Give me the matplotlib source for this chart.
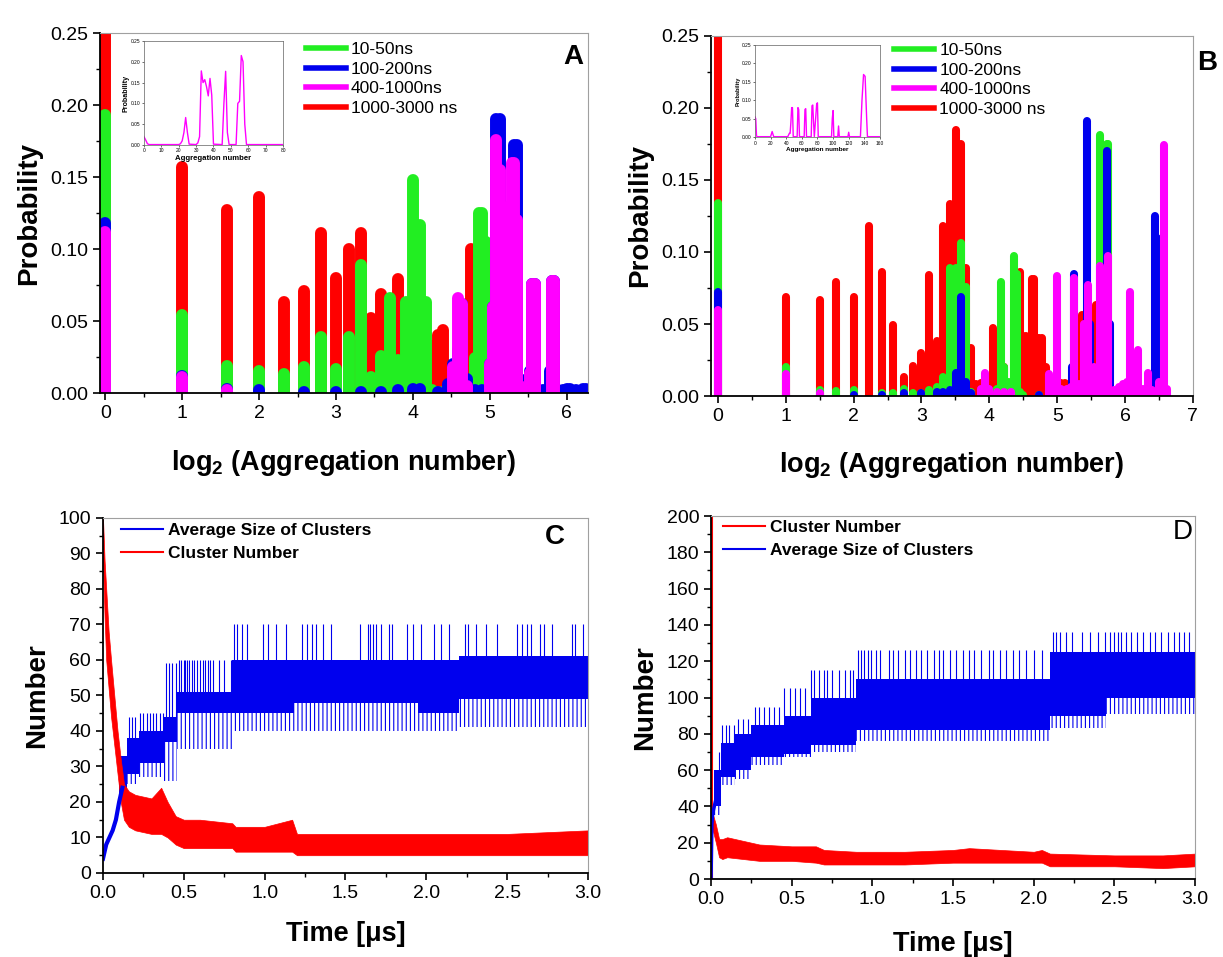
import numpy as np
import matplotlib
matplotlib.use("Agg")
import matplotlib.pyplot as plt
from matplotlib.lines import Line2D
from matplotlib.ticker import MultipleLocator, FormatStrFormatter

plt.rcParams['font.family'] = ['Liberation Sans', 'DejaVu Sans']
plt.rcParams['mathtext.fontset'] = 'custom'
plt.rcParams['mathtext.rm'] = 'Liberation Sans'
plt.rcParams['mathtext.bf'] = 'Liberation Sans:bold'
plt.rcParams['hatch.color'] = '#0000ee'
plt.rcParams['hatch.linewidth'] = 0.8

GREEN = '#22ee22'
BLUE = '#0000ee'
MAGENTA = '#ff00ff'
RED = '#ff0000'

# ---------------- panel A: aggregation number distributions ----------------
agg_a_red = list(range(1, 29))
prob_a_red = [0.30, 0.157, 0.127, 0.136, 0.063, 0.071, 0.111, 0.080, 0.100, 0.111,
              0.052, 0.069, 0.055, 0.079, 0.045, 0.020, 0.015, 0.010, 0.033, 0.040,
              0.044, 0.010, 0.006, 0.005, 0.004, 0.004, 0.100, 0.020]
agg_a_green = list(range(1, 34))
prob_a_green = [0.193, 0.054, 0.019, 0.015, 0.013, 0.018, 0.039, 0.017, 0.039, 0.089,
                0.011, 0.026, 0.066, 0.023, 0.063, 0.148, 0.117, 0.063, 0.002, 0.001,
                0.001, 0.001, 0.001, 0.001, 0.001, 0.002, 0.005, 0.024, 0.125, 0.125,
                0.105, 0.020, 0.004]
agg_a_blue = [1, 2, 3, 4, 6, 8, 10, 12, 14, 16, 17, 20, 22, 23, 24, 25, 26, 28, 30, 32,
              33, 34, 35, 36, 37, 38, 39, 40, 41, 42, 45, 46, 47, 48, 49, 52, 55, 56, 57, 58,
              62, 64, 66, 70, 74, 76]
prob_a_blue = [0.118, 0.012, 0.003, 0.002, 0.001, 0.001, 0.001, 0.001, 0.002, 0.003,
               0.003, 0.001, 0.006, 0.020, 0.030, 0.062, 0.010, 0.002, 0.002, 0.020,
               0.060, 0.190, 0.190, 0.120, 0.115, 0.115, 0.115, 0.172, 0.172, 0.010,
               0.003, 0.015, 0.076, 0.076, 0.003, 0.002, 0.015, 0.078, 0.078, 0.003,
               0.002, 0.003, 0.003, 0.002, 0.003, 0.003]
agg_a_mag = [1, 2, 3, 23, 24, 25, 26, 32, 33, 34, 35, 36, 37, 38, 39, 40, 41, 42, 46, 47,
             48, 56, 57]
prob_a_mag = [0.112, 0.011, 0.002, 0.018, 0.066, 0.062, 0.005, 0.020, 0.060, 0.176,
              0.155, 0.115, 0.115, 0.130, 0.160, 0.160, 0.120, 0.005, 0.014, 0.076,
              0.076, 0.078, 0.078]

# inset A
ins_a_n = [0, 1, 2, 3, 20, 21, 22, 23, 24, 25, 26, 30, 31, 32, 33, 34, 35, 36, 37, 38,
           39, 40, 45, 46, 47, 48, 49, 53, 54, 55, 56, 57, 58, 59, 80]
ins_a_p = [0.02, 0.012, 0.003, 0.001, 0.001, 0.003, 0.01, 0.03, 0.066, 0.03,
           0.002, 0.001, 0.005, 0.02, 0.178, 0.15, 0.157, 0.14, 0.118, 0.16,
           0.12, 0.002, 0.001, 0.1, 0.177, 0.03, 0.001, 0.001, 0.1, 0.105,
           0.215, 0.2, 0.05, 0.001, 0.001]

# ---------------- panel B (aggregation counted in inset units, /1.5) ----------------
agg_b_red = [1.5, 3, 4.24, 5, 6, 7, 8, 9, 10, 11, 12, 13, 14, 15, 16, 17, 18, 19, 20, 21,
             22, 23, 24, 25, 26, 27, 28, 29, 30, 31, 32, 33, 34, 35, 36, 37, 38, 39, 40, 41,
             42, 43, 44, 46, 48, 50, 52, 54, 56, 62, 66, 71]
prob_b_red = [0.30, 0.069, 0.067, 0.079, 0.069, 0.118, 0.086, 0.049, 0.0135, 0.021,
              0.030, 0.084, 0.038, 0.118, 0.133, 0.185, 0.175, 0.089, 0.033, 0.008,
              0.009, 0.004, 0.003, 0.047, 0.012, 0.008, 0.020, 0.006, 0.004, 0.005,
              0.008, 0.086, 0.042, 0.042, 0.030, 0.081, 0.081, 0.040, 0.040, 0.040,
              0.020, 0.020, 0.012, 0.004, 0.009, 0.009, 0.009, 0.004, 0.003, 0.056,
              0.004, 0.063]
agg_b_green = [1.5, 3, 4.24, 5, 6, 8, 9, 10, 11, 12, 13, 14, 15, 16, 17, 18, 19, 20, 22, 24,
               26, 27, 28, 29, 30, 31, 32, 33, 34, 40, 50, 60, 74, 80, 81]
prob_b_green = [0.134, 0.020, 0.004, 0.0035, 0.004, 0.002, 0.002, 0.005, 0.002, 0.002,
                0.004, 0.006, 0.013, 0.089, 0.089, 0.106, 0.076, 0.003, 0.001, 0.002,
                0.005, 0.079, 0.020, 0.010, 0.010, 0.097, 0.085, 0.003, 0.001, 0.001,
                0.001, 0.002, 0.181, 0.175, 0.175]
agg_b_blue = [1.5, 3, 4.24, 6, 8, 10, 12, 14, 15, 16, 17, 18, 19, 20, 24, 30, 40, 50, 56, 57,
              60, 64, 65, 67, 72, 78, 80, 82, 90, 100, 120, 128, 131, 133]
prob_b_blue = [0.072, 0.002, 0.001, 0.001, 0.001, 0.002, 0.002, 0.003, 0.003, 0.004,
               0.016, 0.069, 0.010, 0.002, 0.001, 0.001, 0.001, 0.002, 0.020, 0.085,
               0.005, 0.010, 0.191, 0.050, 0.010, 0.050, 0.170, 0.050, 0.002, 0.002,
               0.002, 0.010, 0.125, 0.110]
agg_b_mag = [1.5, 3, 4.24, 22, 23, 24, 26, 28, 30, 44, 46, 48, 50, 53, 55, 57, 60, 63, 66, 70,
             74, 78, 81, 86, 90, 94, 98, 101, 105, 110, 115, 121, 126, 136, 143, 148]
prob_b_mag = [0.060, 0.0156, 0.002, 0.005, 0.016, 0.005, 0.003, 0.003, 0.003, 0.015,
              0.010, 0.083, 0.005, 0.005, 0.006, 0.082, 0.008, 0.050, 0.077, 0.020,
              0.090, 0.040, 0.097, 0.004, 0.006, 0.008, 0.010, 0.072, 0.010, 0.032,
              0.005, 0.016, 0.004, 0.010, 0.174, 0.005]

# inset B
ins_b_n = [0, 1, 2, 3, 20, 22, 24, 42, 44, 45, 46, 47, 48, 49, 54, 55, 56, 57, 63, 64,
           65, 66, 72, 73, 74, 75, 76, 78, 79, 80, 81, 98, 99, 100, 101, 106, 107, 108, 119, 120,
           121, 135, 137, 139, 141, 143, 144, 160]
ins_b_p = [0.055, 0.05, 0.003, 0.001, 0.001, 0.015, 0.001, 0.001, 0.01, 0.01,
           0.04, 0.08, 0.08, 0.001, 0.001, 0.08, 0.075, 0.001, 0.001, 0.075,
           0.077, 0.001, 0.001, 0.085, 0.087, 0.04, 0.001, 0.06, 0.09, 0.093,
           0.001, 0.001, 0.05, 0.072, 0.001, 0.001, 0.03, 0.001, 0.001, 0.013,
           0.001, 0.001, 0.1, 0.17, 0.165, 0.05, 0.001, 0.001]

# ---------------- panel C: time series envelopes ----------------
c_blue_rise_t = [0.0, 0.01, 0.02, 0.04, 0.06, 0.08, 0.10, 0.12]
c_blue_rise_v = [4, 6, 8, 10, 12, 15, 20, 24]
c_seg_t0 = [0.10, 0.15, 0.22, 0.38, 0.46, 0.80, 1.18, 1.95, 2.20]
c_seg_t1 = [0.15, 0.22, 0.38, 0.46, 0.80, 1.18, 1.95, 2.20, 3.00]
c_core_lo = [22, 28, 31, 37, 45, 45, 48, 45, 49]
c_core_hi = [33, 38, 40, 44, 51, 60, 60, 60, 61]
c_tail_lo = [19, 25, 27, 26, 35, 40, 40, 40, 41]
c_spike_hi = [35, 44, 45, 59, 60, 70, 70, 70, 70]
c_spike_t = [0.16, 0.18, 0.20, 0.23, 0.25, 0.27, 0.29, 0.31, 0.33, 0.35, 0.37,
             0.39, 0.41, 0.43, 0.45, 0.47, 0.48, 0.50, 0.51, 0.52, 0.53, 0.55, 0.56,
             0.58, 0.60, 0.62, 0.63, 0.65, 0.66, 0.68, 0.72, 0.75, 0.79,
             0.81, 0.83, 0.86, 0.89, 0.99, 1.02, 1.07, 1.13, 1.23, 1.26, 1.29, 1.32,
             1.36, 1.41, 1.59, 1.64, 1.65, 1.67, 1.69, 1.72, 1.77, 1.79, 1.88, 1.92,
             1.97, 2.05, 2.09, 2.14, 2.24, 2.26, 2.31, 2.37, 2.44, 2.56, 2.59, 2.62,
             2.65, 2.70, 2.73, 2.78, 2.90, 2.92, 2.97]
c_red_t = [0.0, 0.01, 0.02, 0.035, 0.05, 0.07, 0.09, 0.11, 0.13, 0.16, 0.2, 0.3, 0.36,
           0.4, 0.45, 0.5, 0.6, 0.8, 0.82, 1.0, 1.17, 1.2, 1.5, 2.0, 2.5, 3.0]
c_red_lo = [88, 72, 60, 52, 44, 36, 28, 20, 15, 13, 12, 11, 11, 10, 8, 7, 7, 7, 6, 6,
            6, 5, 5, 5, 5, 5]
c_red_hi = [100, 88, 80, 68, 60, 50, 40, 32, 25, 23, 22, 21, 24, 20, 16, 15, 15, 14, 13, 13,
            15, 11, 11, 11, 11, 12]

# ---------------- panel D ----------------
d_blue_rise_t = [0.0, 0.005, 0.01, 0.02, 0.04]
d_blue_rise_v = [0, 30, 36, 40, 48]
d_seg_t0 = [0.02, 0.06, 0.15, 0.25, 0.45, 0.62, 0.90, 2.10, 2.45]
d_seg_t1 = [0.06, 0.15, 0.25, 0.45, 0.62, 0.90, 2.10, 2.45, 3.00]
d_core_lo = [40, 56, 60, 67, 69, 74, 82, 90, 100]
d_core_hi = [60, 75, 80, 85, 90, 100, 110, 125, 125]
d_tail_lo = [35, 52, 55, 63, 67, 70, 76, 83, 91]
d_spike_hi = [70, 85, 88, 95, 105, 115, 126, 136, 136]
d_spike_t = [0.05, 0.07, 0.09, 0.11, 0.14, 0.17, 0.20, 0.23, 0.27, 0.30, 0.33, 0.36,
             0.39, 0.42, 0.45, 0.49, 0.52, 0.55, 0.58, 0.62, 0.64, 0.67, 0.70, 0.72,
             0.75, 0.79, 0.83, 0.86, 0.88, 0.91, 0.93, 0.95, 0.97, 0.99, 1.02, 1.05,
             1.10, 1.13, 1.16, 1.20, 1.23, 1.27, 1.30, 1.34, 1.38, 1.41, 1.44, 1.48,
             1.52, 1.56, 1.60, 1.63, 1.67, 1.72, 1.75, 1.79, 1.83, 1.87, 1.91, 1.95,
             2.00, 2.05, 2.12, 2.14, 2.16, 2.20, 2.24, 2.30, 2.35, 2.40, 2.44, 2.47,
             2.50, 2.52, 2.54, 2.57, 2.60, 2.64, 2.68, 2.72, 2.75, 2.79, 2.83, 2.87,
             2.90, 2.93, 2.96]
d_red_t = [0.0, 0.01, 0.03, 0.05, 0.07, 0.1, 0.2, 0.3, 0.5, 0.65, 0.7, 0.9, 1.2, 1.5,
           1.6, 2.0, 2.05, 2.1, 2.5, 2.8, 3.0]
d_red_lo = [30, 27, 20, 12, 11, 12, 11, 10, 10, 9, 8, 8, 8, 9, 9, 9, 9, 7, 7, 6, 7]
d_red_hi = [40, 36, 30, 22, 22, 23, 21, 19, 18, 18, 16, 15, 15, 16, 17, 15, 16, 14, 13, 13, 14]
d_red_start = 200


def style_axes(ax):
    for s in ['top', 'right']:
        ax.spines[s].set_color('#a0a0a0')
        ax.spines[s].set_linewidth(0.8)
    for s in ['left', 'bottom']:
        ax.spines[s].set_linewidth(1.3)
    ax.tick_params(which='both', direction='out', top=False, right=False, labelsize=14)
    ax.tick_params(which='major', length=5, width=1.2)
    ax.tick_params(which='minor', length=3, width=1.0)


def draw_bars(ax, agg, prob, color, lw, scale=1.0):
    x = np.log2(np.array(agg, dtype=float) / scale)
    ax.vlines(x, 0, prob, colors=color, linewidth=lw, capstyle='round')


def draw_inset(rect, n, p, xmax, xstep, fs):
    ax = fig.add_axes(rect)
    ax.plot(n, p, color=MAGENTA, lw=1.0)
    ax.set_xlim(0, xmax)
    ax.set_ylim(0, 0.25)
    ax.set_xticks(np.arange(0, xmax + 1, xstep))
    ax.set_yticks([0, 0.05, 0.10, 0.15, 0.20, 0.25])
    ax.yaxis.set_major_formatter(FormatStrFormatter('%.2f'))
    ax.tick_params(labelsize=3.5, length=1.5, width=0.4, pad=1)
    for s in ax.spines.values():
        s.set_linewidth(0.5)
        s.set_color('#606060')
    ax.set_xlabel('Aggregation number', fontsize=fs, fontweight='bold', labelpad=1)
    ax.set_ylabel('Probability', fontsize=fs - 0.5, fontweight='bold', labelpad=1)


def draw_blue_series(ax, t0, t1, clo, chi, tlo, shi, st):
    for a, b, lo, hi, tl in zip(t0, t1, clo, chi, tlo):
        ax.fill_between([a, b], tl, lo, facecolor='none', edgecolor=BLUE,
                        hatch='||||', linewidth=0)
        ax.fill_between([a, b], lo, hi, color=BLUE, linewidth=0)
    idx = np.searchsorted(t0, st, side='right') - 1
    ax.vlines(st, np.array(chi)[idx], np.array(shi)[idx], colors=BLUE, linewidth=0.8)


fig = plt.figure(figsize=(12.23, 9.57), dpi=100)

# ---- A ----
axA = fig.add_axes([0.0818, 0.5893, 0.399, 0.3762])
for agg, prob, col in [(agg_a_red, prob_a_red, RED), (agg_a_green, prob_a_green, GREEN),
                       (agg_a_blue, prob_a_blue, BLUE), (agg_a_mag, prob_a_mag, MAGENTA)]:
    draw_bars(axA, agg, prob, col, 8.6)
axA.set_xlim(-0.07, 6.28)
axA.set_ylim(0, 0.25)
axA.xaxis.set_major_locator(MultipleLocator(1))
axA.xaxis.set_minor_locator(MultipleLocator(0.5))
axA.yaxis.set_major_locator(MultipleLocator(0.05))
axA.yaxis.set_minor_locator(MultipleLocator(0.025))
axA.yaxis.set_major_formatter(FormatStrFormatter('%.2f'))
style_axes(axA)
axA.set_ylabel('Probability', fontsize=20, fontweight='bold', labelpad=6)
axA.set_xlabel(r'log$_\mathbf{2}$ (Aggregation number)', fontsize=19.5,
               fontweight='bold', labelpad=19)
axA.text(0.969, 0.933, 'A', transform=axA.transAxes, fontsize=20, fontweight='bold',
         ha='center', va='center')

labels_ab = ['10-50ns', '100-200ns', '400-1000ns', '1000-3000 ns']
handles_ab = [Line2D([], [], color=c, lw=4) for c in [GREEN, BLUE, MAGENTA, RED]]
axA.legend(handles_ab, labels_ab, loc='upper left', bbox_to_anchor=(0.422, 0.975),
           frameon=False, fontsize=12.5, handlelength=2.3, handletextpad=0.3,
           labelspacing=0.25, borderaxespad=0, borderpad=0)

draw_inset([0.1177, 0.8485, 0.1137, 0.1087], ins_a_n, ins_a_p, 80, 10, 5.6)

# ---- B ----
axB = fig.add_axes([0.5814, 0.5862, 0.394, 0.3762])
for agg, prob, col in [(agg_b_red, prob_b_red, RED), (agg_b_green, prob_b_green, GREEN),
                       (agg_b_blue, prob_b_blue, BLUE), (agg_b_mag, prob_b_mag, MAGENTA)]:
    draw_bars(axB, agg, prob, col, 5.8, scale=1.5)
axB.set_xlim(-0.1, 7)
axB.set_ylim(0, 0.25)
axB.xaxis.set_major_locator(MultipleLocator(1))
axB.xaxis.set_minor_locator(MultipleLocator(0.5))
axB.yaxis.set_major_locator(MultipleLocator(0.05))
axB.yaxis.set_minor_locator(MultipleLocator(0.025))
axB.yaxis.set_major_formatter(FormatStrFormatter('%.2f'))
style_axes(axB)
axB.set_ylabel('Probability', fontsize=20, fontweight='bold', labelpad=6)
axB.set_xlabel(r'log$_\mathbf{2}$ (Aggregation number)', fontsize=19.5,
               fontweight='bold', labelpad=18)
axB.text(1.029, 0.925, 'B', transform=axB.transAxes, fontsize=20, fontweight='bold',
         ha='center', va='center')
axB.legend(handles_ab, labels_ab, loc='upper left', bbox_to_anchor=(0.38, 0.98),
           frameon=False, fontsize=12.5, handlelength=2.3, handletextpad=0.3,
           labelspacing=0.25, borderaxespad=0, borderpad=0)

draw_inset([0.6173, 0.8568, 0.1022, 0.0961], ins_b_n, ins_b_p, 160, 20, 4.6)

# ---- C ----
axC = fig.add_axes([0.0842, 0.0878, 0.3966, 0.371])
axC.plot(c_blue_rise_t, c_blue_rise_v, color=BLUE, lw=3)
draw_blue_series(axC, c_seg_t0, c_seg_t1, c_core_lo, c_core_hi, c_tail_lo,
                 c_spike_hi, c_spike_t)
axC.fill_between(c_red_t, c_red_lo, c_red_hi, color=RED, linewidth=0.5)
axC.set_xlim(0, 3)
axC.set_ylim(0, 100)
axC.xaxis.set_major_locator(MultipleLocator(0.5))
axC.xaxis.set_minor_locator(MultipleLocator(0.25))
axC.xaxis.set_major_formatter(FormatStrFormatter('%.1f'))
axC.yaxis.set_major_locator(MultipleLocator(10))
axC.yaxis.set_minor_locator(MultipleLocator(5))
style_axes(axC)
axC.set_ylabel('Number', fontsize=20, fontweight='bold', labelpad=6)
axC.set_xlabel('Time [\u03bcs]', fontsize=19.5, fontweight='bold', labelpad=14)
axC.text(0.932, 0.946, 'C', transform=axC.transAxes, fontsize=20, fontweight='bold',
         ha='center', va='center')
axC.legend([Line2D([], [], color=BLUE, lw=1.5), Line2D([], [], color=RED, lw=1.5)],
           ['Average Size of Clusters', 'Cluster Number'], loc='upper left',
           bbox_to_anchor=(0.037, 0.985), frameon=False, prop={'size': 12.5, 'weight': 'bold'},
           handlelength=2.4, handletextpad=0.3, labelspacing=0.45, borderaxespad=0,
           borderpad=0)

# ---- D ----
axD = fig.add_axes([0.5814, 0.0815, 0.3958, 0.3793])
axD.vlines(0.004, 0, d_red_start, colors=RED, linewidth=1.5)
axD.fill_between(d_red_t, d_red_lo, d_red_hi, color=RED, linewidth=0.5)
axD.plot(d_blue_rise_t, d_blue_rise_v, color=BLUE, lw=2.5)
draw_blue_series(axD, d_seg_t0, d_seg_t1, d_core_lo, d_core_hi, d_tail_lo,
                 d_spike_hi, d_spike_t)
axD.set_xlim(0, 3)
axD.set_ylim(0, 200)
axD.xaxis.set_major_locator(MultipleLocator(0.5))
axD.xaxis.set_minor_locator(MultipleLocator(0.25))
axD.xaxis.set_major_formatter(FormatStrFormatter('%.1f'))
axD.yaxis.set_major_locator(MultipleLocator(20))
axD.yaxis.set_minor_locator(MultipleLocator(10))
style_axes(axD)
axD.set_ylabel('Number', fontsize=20, fontweight='bold', labelpad=6)
axD.set_xlabel('Time [\u03bcs]', fontsize=19.5, fontweight='bold', labelpad=17)
axD.text(0.975, 0.956, 'D', transform=axD.transAxes, fontsize=20,
         ha='center', va='center')
axD.legend([Line2D([], [], color=RED, lw=1.5), Line2D([], [], color=BLUE, lw=1.5)],
           ['Cluster Number', 'Average Size of Clusters'], loc='upper left',
           bbox_to_anchor=(0.025, 0.99), frameon=False, prop={'size': 12.5, 'weight': 'bold'},
           handlelength=2.4, handletextpad=0.3, labelspacing=0.45, borderaxespad=0,
           borderpad=0)

fig.savefig('out.png', dpi=100)
